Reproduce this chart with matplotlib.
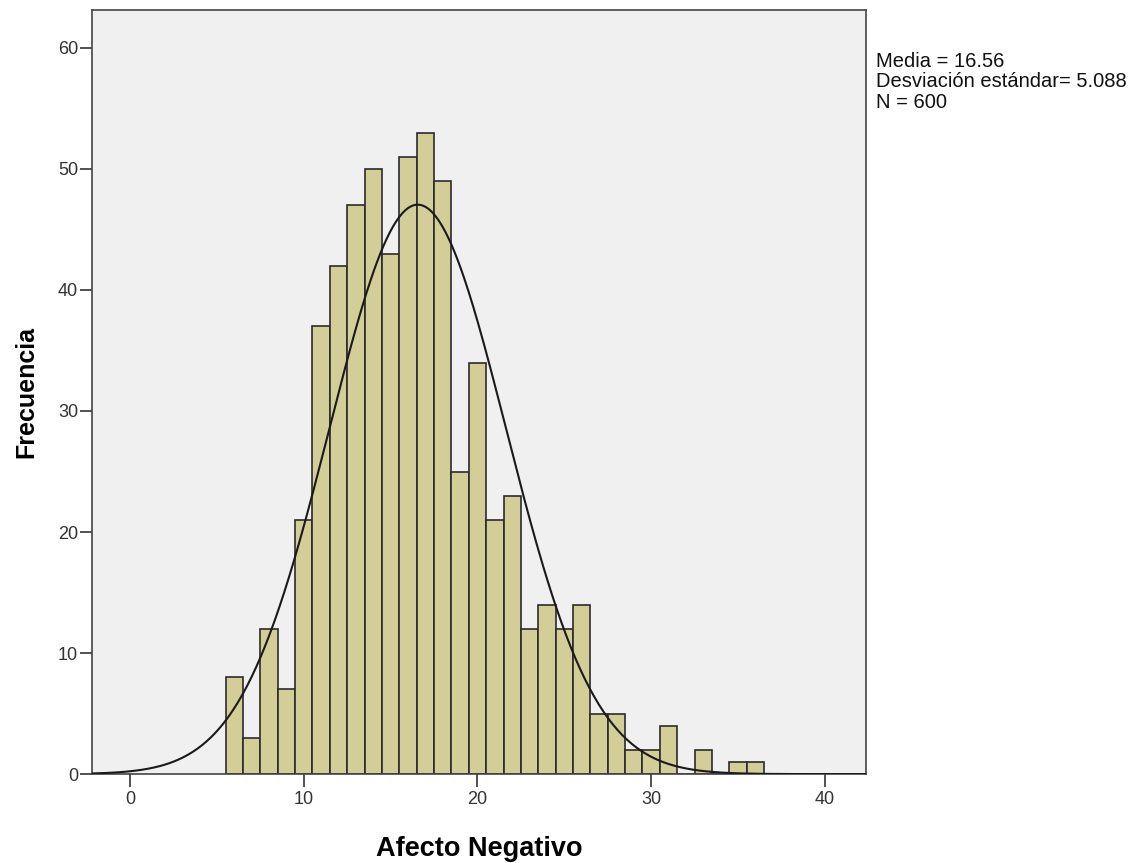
import numpy as np
import matplotlib
matplotlib.use('Agg')
import matplotlib.pyplot as plt

# bin centres (width 1) and frequencies
centers = list(range(6, 37))
counts = [8, 3, 12, 7, 21, 37, 42, 47, 50, 43, 51, 53, 49, 25, 34, 21, 23,
          12, 14, 12, 14, 5, 5, 2, 2, 4, 0, 2, 0, 1, 1]

mean = 16.56
sd = 5.088
n = 600

xticks = [0, 10, 20, 30, 40]
yticks = [0, 10, 20, 30, 40, 50, 60]

plt.rcParams['font.family'] = ['Liberation Sans', 'DejaVu Sans']

fig = plt.figure(figsize=(11.41, 8.63), dpi=100)
ax = fig.add_axes([0.0806, 0.103, 0.678, 0.885])
ax.set_facecolor('#f0f0f0')

ax.bar(centers, counts, width=1.0, color='#d3ce97', edgecolor='#2b2b2b', linewidth=1.2, zorder=2)

xmin, xmax = -2.2, 42.35
xs = np.linspace(xmin, xmax, 500)
ys = n * 1.0 / (sd * np.sqrt(2 * np.pi)) * np.exp(-0.5 * ((xs - mean) / sd) ** 2)
ax.plot(xs, ys, color='#1a1a1a', linewidth=1.5, zorder=3)

ax.set_xlim(xmin, xmax)
ax.set_ylim(0, 63.1)
ax.set_xticks(xticks)
ax.set_yticks(yticks)
ax.tick_params(direction='out', length=9, width=1.2, labelsize=13, colors='#333333', labelcolor='#333333')
ax.tick_params(axis='y', pad=1)
ax.tick_params(axis='x', pad=3)
ax.tick_params(top=False, right=False)
for s in ax.spines.values():
    s.set_color('#444444')
    s.set_linewidth(1.2)

ax.set_xlabel('Afecto Negativo', fontsize=19.5, fontweight='bold', labelpad=20)
ax.set_ylabel('Frecuencia', fontsize=18, fontweight='bold', labelpad=14)

fig.text(0.768, 0.94, 'Media = 16.56\nDesviación estándar= 5.088\nN = 600',
         fontsize=14.5, va='top', ha='left', linespacing=1.1, color='#111111')

fig.savefig('out.png', dpi=100)
